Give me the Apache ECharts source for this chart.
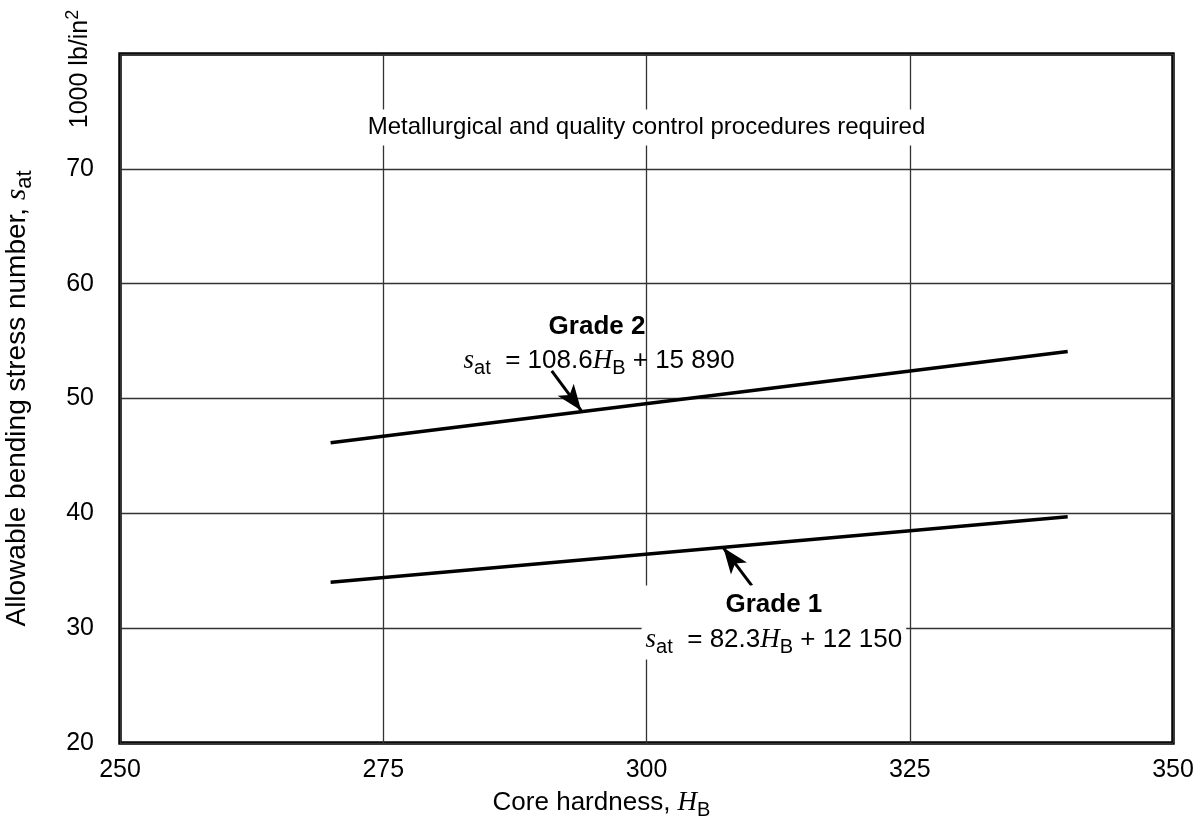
<!DOCTYPE html>
<html>
<head>
<meta charset="utf-8">
<script src="https://cdn.jsdelivr.net/npm/echarts@6/dist/echarts.min.js"></script>
<style>
  html, body { margin: 0; padding: 0; background: #fff; }
  #chart { width: 1201px; height: 817px; }
</style>
</head>
<body>
<div id="chart"></div>
<script>
// Core hardness (HB) at the ends of each grade line
const hardness = [270, 340];
// Allowable bending stress number, 1000 lb/in^2
const grade1 = [34.0, 39.7];
const grade2 = [46.15, 54.1];
// Axis ticks
const xTicks = [250, 275, 300, 325, 350];
const yTicks = [20, 30, 40, 50, 60, 70, 80];

const SANS = 'Liberation Sans, Arial, Helvetica, sans-serif';
const SERIF = 'Liberation Serif, Times New Roman, serif';

const chart = echarts.init(document.getElementById('chart'), null, { renderer: 'canvas' });

function pts(xs, ys) { return xs.map((x, i) => [x, ys[i]]); }

// rich-text styles for the s_at / H_B notation
function richStyles(size) {
  const lh = Math.round(size * 1.35);
  return {
    t:   { fontFamily: SANS, fontSize: size, color: '#000', lineHeight: lh, verticalAlign: 'middle' },
    it:  { fontFamily: SERIF, fontStyle: 'italic', fontSize: size + 1, color: '#000', lineHeight: lh, verticalAlign: 'middle' },
    sub: { fontFamily: SANS, fontSize: Math.round(size * 0.78), color: '#000', verticalAlign: 'bottom' },
    b:   { fontFamily: SANS, fontWeight: 'bold', fontSize: size, color: '#000', lineHeight: lh }
  };
}

function arrow(from, to) {
  return {
    silent: true, symbol: ['none', 'arrow'], symbolSize: [15, 26],
    label: { show: false },
    lineStyle: { color: '#000', width: 3, type: 'solid' },
    data: [[{ coord: from }, { coord: to }]]
  };
}

const option = {
  animation: false,
  backgroundColor: '#fff',
  grid: {
    left: 120, right: 28, top: 54, bottom: 74,
    outerBoundsMode: 'none', containLabel: false,
    show: true, borderColor: '#000', borderWidth: 3.5, backgroundColor: 'transparent'
  },
  xAxis: {
    type: 'value',
    min: xTicks[0], max: xTicks[xTicks.length - 1], interval: 25,
    axisLine: { show: false },
    axisTick: { show: false },
    axisLabel: { fontFamily: SANS, fontSize: 25, color: '#000', margin: 15 },
    splitLine: { show: true, lineStyle: { color: '#333', width: 1.3 } },
    name: '{t|Core hardness, }{it|H}{sub|B}',
    nameLocation: 'middle',
    nameGap: 42,
    nameTextStyle: { rich: richStyles(26), padding: [0, 90, 0, 0] }
  },
  yAxis: {
    type: 'value',
    min: yTicks[0], max: yTicks[yTicks.length - 1], interval: 10,
    axisLine: { show: false },
    axisTick: { show: false },
    axisLabel: {
      fontFamily: SANS, fontSize: 25, color: '#000', margin: 26,
      formatter: v => (v === 80 ? '' : String(v))
    },
    splitLine: { show: true, lineStyle: { color: '#333', width: 1.3 } },
    name: '{t|Allowable bending stress number, }{it|s}{sub|at}',
    nameLocation: 'middle',
    nameRotate: 90,
    nameGap: 84,
    nameTextStyle: { rich: richStyles(28) }
  },
  series: [
    {
      name: 'Grade 1', type: 'line', data: pts(hardness, grade1),
      symbol: 'none', lineStyle: { color: '#000', width: 3.5 }, silent: true,
      markLine: arrow([310.0, 33.7], [307.3, 37.0])
    },
    {
      name: 'Grade 2', type: 'line', data: pts(hardness, grade2),
      symbol: 'none', lineStyle: { color: '#000', width: 3.5 }, silent: true,
      markLine: arrow([291.0, 52.4], [293.8, 48.95])
    }
  ]
};

chart.setOption(option);

// Text annotations anchored in data coordinates
function at(x, y) { return chart.convertToPixel({ gridIndex: 0 }, [x, y]); }

function textEl(pos, text, rich, bg) {
  return {
    type: 'text', x: pos[0], y: pos[1], z: 100,
    style: Object.assign({
      text: text, rich: rich, align: 'center', verticalAlign: 'middle',
      fontFamily: SANS, fontSize: 24, fill: '#000'
    }, bg ? { backgroundColor: '#fff', padding: [2, 4] } : {})
  };
}

const R24 = richStyles(24);
const R26 = richStyles(26);
chart.setOption({
  graphic: [
    textEl(at(300, 73.6), '{t|Metallurgical and quality control procedures required}', R24, true),
    textEl(at(295.3, 56.2), '{b|Grade 2}', R26, false),
    textEl(at(295.5, 53.3), '{it|s}{sub|at}{t|  = 108.6}{it|H}{sub|B}{t| + 15 890}', R26, false),
    textEl(at(312.1, 30.5), '{b|Grade 1}\n{it|s}{sub|at}{t|  = 82.3}{it|H}{sub|B}{t| + 12 150}', R26, true),
    // unit label above the value axis
    {
      type: 'text', x: 80, y: 69, rotation: Math.PI / 2, z: 100,
      style: {
        text: '{t|1000 lb/in}{sup|2}', align: 'center', verticalAlign: 'middle',
        rich: {
          t: { fontFamily: SANS, fontSize: 25, fill: '#000', lineHeight: 32, verticalAlign: 'middle' },
          sup: { fontFamily: SANS, fontSize: 18, fill: '#000', verticalAlign: 'top' }
        }
      }
    }
  ]
});
</script>
</body>
</html>
